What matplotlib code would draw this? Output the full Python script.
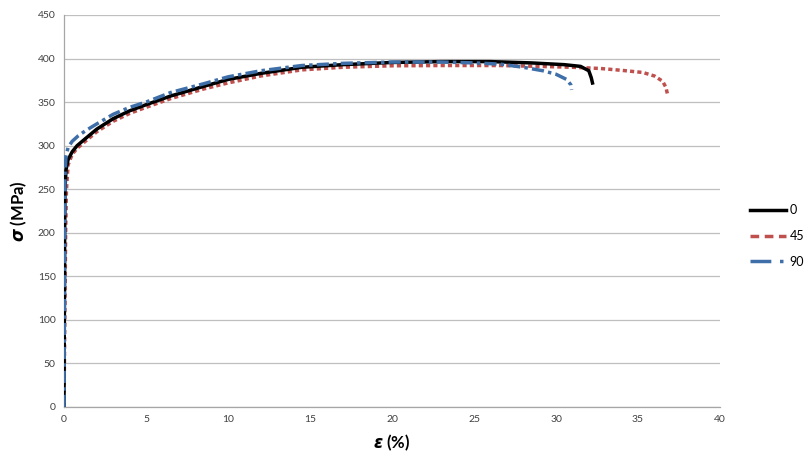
import matplotlib
matplotlib.use("Agg")
import matplotlib.pyplot as plt
from matplotlib.lines import Line2D

plt.rcParams['font.family'] = ['Lato', 'DejaVu Sans']
plt.rcParams['mathtext.fontset'] = 'custom'
plt.rcParams['mathtext.bf'] = 'DejaVu Sans:italic:bold'

# Series: strain (%) and stress (MPa)
strain_0 = [0, 0.02, 0.04, 0.06, 0.12, 0.25, 0.5, 0.8, 1.3, 2.0, 3.0, 4.0, 5.0, 6.5, 8.5, 10, 12, 14.5,
            17, 20, 23, 26, 28.5, 30.5, 31.5, 32.0, 32.15, 32.25]
stress_0 = [0, 100, 200, 250, 272, 284, 293, 300, 308, 319, 331, 340, 347, 357, 368, 376, 383, 390,
            393, 395.5, 396.5, 396.5, 395, 393, 391, 386, 378, 370]

strain_45 = [0, 0.05, 0.1, 0.15, 0.25, 0.5, 0.8, 1.3, 2.0, 3.0, 4.0, 5.0, 6.5, 8.5, 10, 12, 14.5,
             17, 20, 23, 26.6, 29, 31, 32.7, 34, 35.3, 36, 36.5, 36.7, 36.8]
stress_45 = [0, 100, 200, 250, 278, 290, 297, 305, 316, 328, 337, 344, 354, 365, 372, 380, 387,
             390, 391.7, 392, 392, 391, 390, 388.6, 386.5, 384, 380, 374, 367, 359]

strain_90 = [0, 0.02, 0.04, 0.06, 0.12, 0.25, 0.5, 0.85, 1.3, 2.0, 3.0, 4.0, 5.0, 6.5, 8.5, 10, 12, 14.5,
             17, 20, 23, 25, 26.6, 28, 29.2, 30, 30.65, 30.9, 30.95]
stress_90 = [0, 100, 200, 265, 288, 298, 305, 311, 317, 325, 336, 344, 350, 361, 371, 379, 386, 392,
             394.5, 396, 396, 395, 393.6, 390, 386, 382, 376, 370, 364]

series_labels = ['0', '45', '90']
x_ticks = [0, 5, 10, 15, 20, 25, 30, 35, 40]
y_ticks = [0, 50, 100, 150, 200, 250, 300, 350, 400, 450]

black = '#000000'
red = '#C0504D'
blue = '#3F6FA8'

fig = plt.figure(figsize=(8.05, 4.57), dpi=100)
ax = fig.add_axes([64/805, 50/457, (720-64)/805, (407-15)/457])

ax.plot(strain_0, stress_0, color=black, lw=2.5, solid_capstyle='butt', zorder=3)
ax.plot(strain_45, stress_45, color=red, lw=2.5, dashes=(1.2, 0.9), zorder=2)
ax.plot(strain_90, stress_90, color=blue, lw=2.5, dashes=(3.5, 1.2, 1.0, 1.2), zorder=4)

ax.set_xlim(0, 40)
ax.set_ylim(0, 450)
ax.set_xticks(x_ticks)
ax.set_yticks(y_ticks)
ax.tick_params(length=0, labelsize=7.5, colors='#404040', pad=6)
ax.yaxis.grid(True, color='#BFBFBF', lw=0.9)
ax.set_axisbelow(True)
for s in ['top', 'right']:
    ax.spines[s].set_visible(False)
for s in ['left', 'bottom']:
    ax.spines[s].set_color('#A6A6A6')
    ax.spines[s].set_linewidth(0.9)

ax.set_xlabel(r'$\mathbf{ε}$ (%)', fontsize=12, fontweight='bold', labelpad=6)
ax.set_ylabel(r'$\mathbf{σ}$ (MPa)', fontsize=12, fontweight='bold', labelpad=6)

handles = [
    Line2D([], [], color=black, lw=2.5),
    Line2D([], [], color=red, lw=2.5, dashes=(2.5, 1.6)),
    Line2D([], [], color=blue, lw=2.5, dashes=(6, 2.5, 1, 2.5)),
]
fig.legend(handles, series_labels, loc='center left', bbox_to_anchor=(740/805, 1 - 236/457),
           frameon=False, fontsize=9, handlelength=2.9, labelspacing=1.1, handletextpad=0.25,
           borderpad=0.3)

fig.savefig('out.png', dpi=100)
